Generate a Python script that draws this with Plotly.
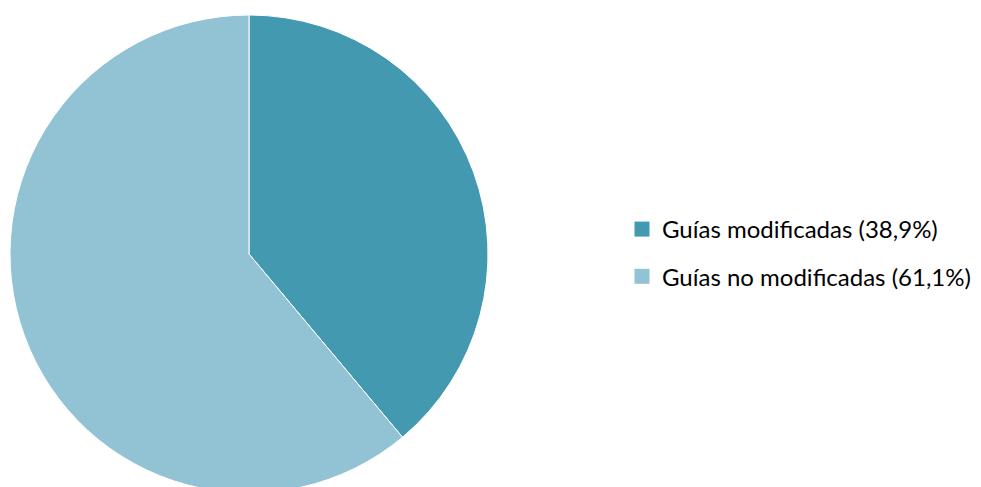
import plotly.graph_objects as go

labels = ["Guías modificadas (38,9%)", "Guías no modificadas (61,1%)"]
values = [38.9, 61.1]
colors = ["#4399B0", "#92C3D5"]

W, H = 981, 487
ML, MR, MT, MB = 2, 0, 7, 2
PW, PH = W - ML - MR, H - MT - MB

fig = go.Figure()
fig.add_trace(go.Pie(
    labels=labels, values=values, sort=False, direction="clockwise", rotation=0,
    marker=dict(colors=colors, line=dict(color="#FFFFFF", width=1)),
    textinfo="none", hoverinfo="label", showlegend=False,
    domain=dict(x=[0, 478 / PW], y=[0, 1]),
))
for i, (lab, col) in enumerate(zip(labels, colors)):
    fig.add_trace(go.Scatter(
        x=[None], y=[None], mode="markers", name=lab, legendgroup=f"g{i}",
        marker=dict(symbol="square", size=15, color=col),
    ))

fig.update_layout(
    width=W, height=H,
    margin=dict(l=ML, r=MR, t=MT, b=MB),
    paper_bgcolor="white", plot_bgcolor="white",
    xaxis=dict(visible=False), yaxis=dict(visible=False),
    legend=dict(x=(614 - ML) / PW, y=1 - (245 - MT) / PH, xanchor="left", yanchor="middle",
                font=dict(family="Lato", size=24, color="#000000"),
                tracegroupgap=13, itemwidth=30, bgcolor="rgba(0,0,0,0)"),
    showlegend=True,
)
fig.write_html("out.html")
